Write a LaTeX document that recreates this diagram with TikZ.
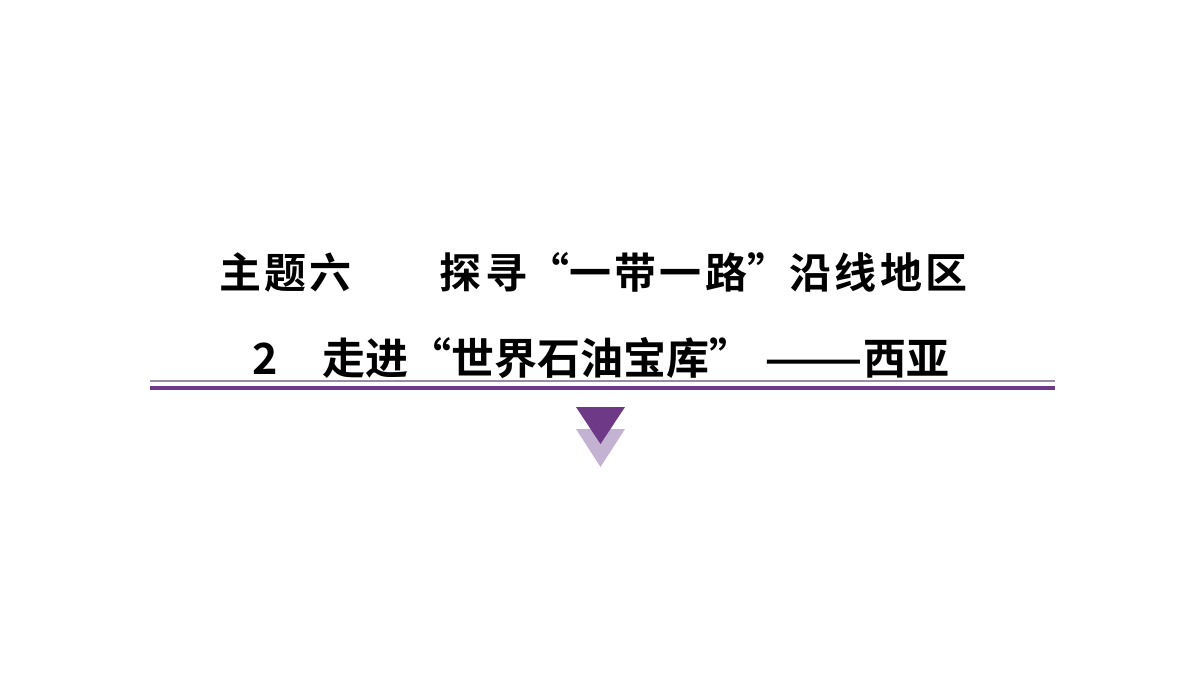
\documentclass[tikz,border=0pt]{standalone}
\usepackage{fontspec}
\newfontfamily\cjk{Noto Sans CJK SC}[BoldFont={* Bold},LetterSpace=8]
\newfontfamily\cjkt{Noto Sans CJK SC}[BoldFont={* Bold}]
\newcommand{\qL}{\makebox[1em][r]{“}}
\newcommand{\qR}{\makebox[1em][l]{”}}
\definecolor{pdark}{HTML}{6E3A87}
\definecolor{plight}{HTML}{C4B2D3}
\definecolor{pthin}{HTML}{9A8AA6}
\tikzset{title/.style={font=\cjk\bfseries\fontsize{42}{48}\selectfont,anchor=base west,inner sep=0},
title2/.style={font=\cjkt\bfseries\fontsize{43}{48}\selectfont,anchor=base west,inner sep=0}}
\begin{document}
\begin{tikzpicture}[x=1pt,y=-1pt]
\useasboundingbox (0,0) rectangle (1200,675);
\node[title] (t1) at (219,288) {主题六\hspace{88pt}探寻\qL 一带一路\qR 沿线地区};
\node[title2] (t2) at (252,374) {2\hspace{45pt}走进\qL 世界石油宝库\qR\hspace{12pt}\scalebox{1.35}[1]{——}西亚};
\draw[pthin,line width=1.2pt] (150,381) -- (1055,381);
\draw[pdark,line width=4pt] (150,387.5) -- (1055,387.5);
\fill[plight] (576,429) -- (625,429) -- (600.5,467) -- cycle;
\fill[pdark] (576,407) -- (625,407) -- (600.5,444) -- cycle;
\end{tikzpicture}
\end{document}
